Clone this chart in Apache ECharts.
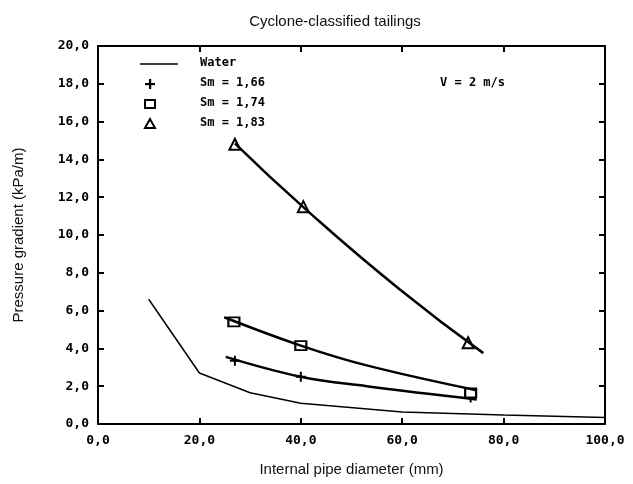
<!DOCTYPE html>
<html>
<head>
<meta charset="utf-8">
<script src="https://cdn.jsdelivr.net/npm/echarts@6/dist/echarts.min.js"></script>
<style>
  html, body { margin: 0; padding: 0; background: #fff; }
  #chart { width: 633px; height: 484px; }
</style>
</head>
<body>
<div id="chart"></div>
<script>
// water reference line (mm, kPa/m)
var waterX = [10, 20, 30, 40, 60, 80, 100];
var waterY = [6.6, 2.7, 1.65, 1.1, 0.63, 0.47, 0.35];

// fitted curves
var fit166X = [25.2, 40, 53, 74.7];
var fit166Y = [3.55, 2.5, 2.0, 1.3];
var fit174X = [24.9, 40, 53, 74.4];
var fit174Y = [5.65, 4.15, 3.1, 1.8];
var fit183X = [27, 40.6, 59.6, 76];
var fit183Y = [14.85, 11.45, 7.1, 3.75];

// measured points
var ptX166 = [27, 40, 73.5];
var ptY166 = [3.35, 2.5, 1.4];
var ptX174 = [26.8, 40, 73.5];
var ptY174 = [5.4, 4.15, 1.65];
var ptX183 = [27, 40.5, 73];
var ptY183 = [14.8, 11.5, 4.3];

var legendNames = ['Water', 'Sm = 1,66', 'Sm = 1,74', 'Sm = 1,83'];

function pairs(xs, ys) {
    return xs.map(function (x, i) { return [x, ys[i]]; });
}
function comma(v) {
    return v.toFixed(1).replace('.', ',');
}

var monoFont = '"DejaVu Sans Mono", monospace';
var sansFont = 'Arial, "Liberation Sans", sans-serif';
var plusPath = 'path://M4,0 L6,0 L6,4 L10,4 L10,6 L6,6 L6,10 L4,10 L4,6 L0,6 L0,4 L4,4 Z';

function axisLine() {
    return { show: true, onZero: false, lineStyle: { color: '#000', width: 2 } };
}
function axisTick() {
    return { show: true, inside: true, length: 6, lineStyle: { color: '#000', width: 2 } };
}

// legend drawn by hand: symbols left, texts right
var legendGraphic = [
    { type: 'line', shape: { x1: 140, y1: 64, x2: 178, y2: 64 }, style: { stroke: '#000', lineWidth: 1.5 } },
    { type: 'rect', shape: { x: 149, y: 79, width: 2.2, height: 10 }, style: { fill: '#000' } },
    { type: 'rect', shape: { x: 145, y: 83, width: 10, height: 2.2 }, style: { fill: '#000' } },
    { type: 'rect', shape: { x: 145, y: 100, width: 10, height: 8 }, style: { fill: '#fff', stroke: '#000', lineWidth: 2 } },
    { type: 'polygon', shape: { points: [[150, 119], [145, 128], [155, 128]] }, style: { fill: '#fff', stroke: '#000', lineWidth: 2 } }
];
legendNames.forEach(function (n, i) {
    legendGraphic.push({
        type: 'text', left: 200, top: 57 + i * 20,
        style: { text: n, font: 'bold 12px "DejaVu Sans Mono", monospace', fill: '#000' }
    });
});
legendGraphic.push({
    type: 'text', left: 440, top: 77,
    style: { text: 'V = 2 m/s', font: 'bold 12px "DejaVu Sans Mono", monospace', fill: '#000' }
});

var myChart = echarts.init(document.getElementById('chart'));

myChart.setOption({
    animation: false,
    title: {
        text: 'Cyclone-classified tailings',
        left: 330,
        textAlign: 'center',
        top: 9,
        textStyle: { fontFamily: sansFont, fontSize: 15, fontWeight: 'normal', color: '#111' }
    },
    grid: { left: 98, right: 28, top: 46, bottom: 60 },
    xAxis: [{
        type: 'value',
        min: 0, max: 100, interval: 20,
        name: 'Internal pipe diameter (mm)',
        nameLocation: 'middle',
        nameGap: 38,
        nameTextStyle: { fontFamily: sansFont, fontSize: 15, color: '#111' },
        axisLine: axisLine(),
        axisTick: axisTick(),
        splitLine: { show: false },
        axisLabel: { formatter: comma, fontFamily: monoFont, fontWeight: 'bold', fontSize: 13, color: '#000', margin: 10 }
    }, {
        type: 'value',
        position: 'top',
        min: 0, max: 100, interval: 20,
        axisLine: axisLine(),
        axisTick: axisTick(),
        splitLine: { show: false },
        axisLabel: { show: false }
    }],
    yAxis: [{
        type: 'value',
        min: 0, max: 20, interval: 2,
        name: 'Pressure gradient (kPa/m)',
        nameLocation: 'middle',
        nameGap: 72,
        nameTextStyle: { fontFamily: sansFont, fontSize: 15, color: '#111' },
        axisLine: axisLine(),
        axisTick: axisTick(),
        splitLine: { show: false },
        axisLabel: { formatter: comma, fontFamily: monoFont, fontWeight: 'bold', fontSize: 13, color: '#000', margin: 9 }
    }, {
        type: 'value',
        position: 'right',
        min: 0, max: 20, interval: 2,
        axisLine: axisLine(),
        axisTick: axisTick(),
        splitLine: { show: false },
        axisLabel: { show: false }
    }],
    graphic: legendGraphic,
    series: [
        {
            name: 'Water', type: 'line', data: pairs(waterX, waterY),
            symbol: 'none', itemStyle: { color: '#000' }, lineStyle: { color: '#000', width: 1.5 }
        },
        {
            name: 'fit166', type: 'line', data: pairs(fit166X, fit166Y), smooth: 0.4,
            symbol: 'none', lineStyle: { color: '#000', width: 2.5 }
        },
        {
            name: 'fit174', type: 'line', data: pairs(fit174X, fit174Y), smooth: 0.4,
            symbol: 'none', lineStyle: { color: '#000', width: 2.5 }
        },
        {
            name: 'fit183', type: 'line', data: pairs(fit183X, fit183Y), smooth: 0.5,
            symbol: 'none', lineStyle: { color: '#000', width: 2.5 }
        },
        {
            name: 'Sm = 1,66', type: 'scatter', data: pairs(ptX166, ptY166),
            symbol: plusPath, symbolSize: 10, symbolKeepAspect: true,
            itemStyle: { color: '#000', opacity: 1 }
        },
        {
            name: 'Sm = 1,74', type: 'scatter', data: pairs(ptX174, ptY174),
            symbol: 'rect', symbolSize: [11, 9],
            itemStyle: { color: '#fff', borderColor: '#000', borderWidth: 2, opacity: 1 }
        },
        {
            name: 'Sm = 1,83', type: 'scatter', data: pairs(ptX183, ptY183),
            symbol: 'triangle', symbolSize: 11,
            itemStyle: { color: '#fff', borderColor: '#000', borderWidth: 2, opacity: 1 }
        }
    ]
});
</script>
</body>
</html>
